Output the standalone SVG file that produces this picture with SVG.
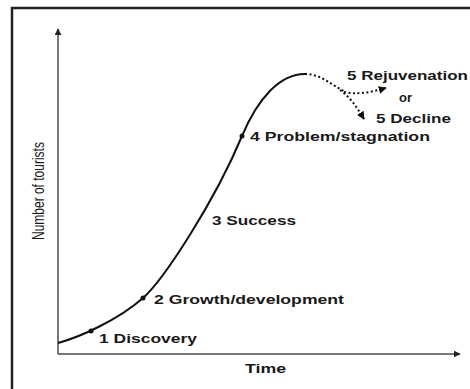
<svg xmlns="http://www.w3.org/2000/svg" width="470" height="389" viewBox="0 0 470 389">
  <style>
    .lbl { font-family: "Liberation Sans", Arial, sans-serif; font-weight: bold; font-size: 12.5px; fill: #1a1a1a; }
    .ax { stroke: #4a4a4a; stroke-width: 1.5; fill: none; }
    .curve { stroke: #111; stroke-width: 2; fill: none; }
    .dot { stroke: #111; stroke-width: 2; fill: none; stroke-dasharray: 2 2.5; }
    .pt { fill: #111; }
  </style>
  <defs>
    <marker id="axarrow" viewBox="0 0 10 10" refX="9" refY="5" markerWidth="7" markerHeight="7" markerUnits="userSpaceOnUse" orient="auto">
      <path d="M0,0 L10,5 L0,10 z" fill="#222"/>
    </marker>
    <marker id="darrow" viewBox="0 0 10 10" refX="9" refY="5" markerWidth="8" markerHeight="8" markerUnits="userSpaceOnUse" orient="auto">
      <path d="M0,0 L10,5 L0,10 z" fill="#111"/>
    </marker>
  </defs>
  <rect x="0" y="0" width="470" height="389" fill="#ffffff"/>
  <g id="frame">
    <rect x="12" y="8" width="470" height="400" fill="none" stroke="#222" stroke-width="2.5"/>
  </g>
  <g id="axes">
    <line class="ax" x1="58" y1="354" x2="58" y2="29" marker-end="url(#axarrow)"/>
    <line class="ax" x1="58" y1="354" x2="460" y2="354" marker-end="url(#axarrow)"/>
  </g>
  <g id="connectors">
    <path class="curve" d="M58,343 C80,337 118,320 143,298 C163,280.4 214,203 242,136 C258,98 280,74 305,74"/>
    <path class="dot" d="M305,74 C322,74 332,86 346,92"/>
    <path class="dot" d="M344,92 C358,95 372,92 386,88" marker-end="url(#darrow)"/>
    <path class="dot" d="M340,90 C350,97 356,106 364,119" marker-end="url(#darrow)"/>
  </g>
  <g id="stage1">
    <circle class="pt" cx="91" cy="331" r="2.5"/>
    <text class="lbl" x="99" y="343" textLength="98" lengthAdjust="spacingAndGlyphs">1 Discovery</text>
  </g>
  <g id="stage2">
    <circle class="pt" cx="143" cy="298" r="2.5"/>
    <text class="lbl" x="154" y="304" textLength="190" lengthAdjust="spacingAndGlyphs">2 Growth/development</text>
  </g>
  <g id="stage3">
    <text class="lbl" x="212" y="225" textLength="84" lengthAdjust="spacingAndGlyphs">3 Success</text>
  </g>
  <g id="stage4">
    <circle class="pt" cx="242" cy="136" r="2.5"/>
    <text class="lbl" x="250" y="141" textLength="180" lengthAdjust="spacingAndGlyphs">4 Problem/stagnation</text>
  </g>
  <g id="stage5">
    <text class="lbl" x="347" y="80" textLength="121" lengthAdjust="spacingAndGlyphs">5 Rejuvenation</text>
    <text class="lbl" x="399" y="102" textLength="13" lengthAdjust="spacingAndGlyphs">or</text>
    <text class="lbl" x="376" y="123" textLength="75" lengthAdjust="spacingAndGlyphs">5 Decline</text>
  </g>
  <g id="axis-labels">
    <text class="lbl" x="245" y="373" textLength="41" lengthAdjust="spacingAndGlyphs">Time</text>
    <text x="0" y="0" transform="translate(44,240) scale(1.4,1) rotate(-90)" font-family="'Liberation Sans', Arial, sans-serif" font-size="12" fill="#1a1a1a">Number of tourists</text>
  </g>
</svg>
